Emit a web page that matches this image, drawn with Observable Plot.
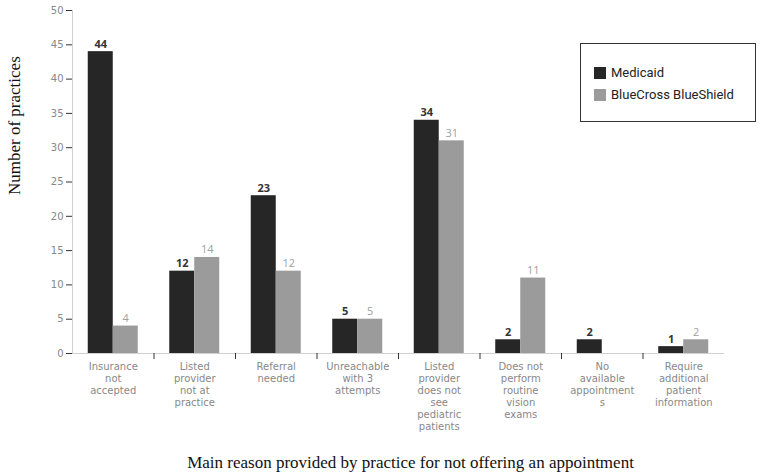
<!DOCTYPE html>
<html>
<head>
<meta charset="utf-8">
<script src="https://cdn.jsdelivr.net/npm/d3@7"></script>
<script src="https://cdn.jsdelivr.net/npm/@observablehq/plot@0.6"></script>
<style>
  html, body { margin: 0; padding: 0; background: #fff; }
  #wrap { position: relative; width: 762px; height: 475px; }
  .legend { position: absolute; left: 580px; top: 43px; width: 176px; height: 79px;
    border: 1px solid #333; background: #fff; box-sizing: border-box;
    font-family: Roboto, sans-serif; font-size: 13px; color: #222; }
  .legend .item { position: absolute; left: 13px; display: flex; align-items: center; }
  .legend .sw { width: 12px; height: 12px; margin-right: 5px; }
</style>
</head>
<body>
<div id="wrap"></div>
<script>
const categories = ["Insurance not accepted", "Listed provider not at practice", "Referral needed",
  "Unreachable with 3 attempts", "Listed provider does not see pediatric patients",
  "Does not perform routine vision exams", "No available appointments", "Require additional patient information"];
const tickLabels = ["Insurance\nnot\naccepted", "Listed\nprovider\nnot at\npractice", "Referral\nneeded",
  "Unreachable\nwith 3\nattempts", "Listed\nprovider\ndoes not\nsee\npediatric\npatients",
  "Does not\nperform\nroutine\nvision\nexams", "No\navailable\nappointment\ns", "Require\nadditional\npatient\ninformation"];
const seriesNames = ["Medicaid", "BlueCross BlueShield"];
const medicaid = [44, 12, 23, 5, 34, 2, 2, 1];
const bcbs = [4, 14, 12, 5, 31, 11, 0, 2];
const yTicks = [0, 5, 10, 15, 20, 25, 30, 35, 40, 45, 50];
const yTitle = "Number of practices";
const xTitle = "Main reason provided by practice for not offering an appointment";

const colors = ["#262626", "#9b9b9b"];
const medRows = categories.map((c, i) => ({cat: c, value: medicaid[i]}));
const bcRows = categories.map((c, i) => ({cat: c, value: bcbs[i]}));
const labelOf = new Map(categories.map((c, i) => [c, tickLabels[i]]));

const W = 762, H = 475, ML = 72, MR = 38, MT = 10, MB = 122;
const band = (W - ML - MR) / categories.length;
const half = band / 2;
const serif = "Liberation Serif";
const sans = "DejaVu Sans";

const chart = Plot.plot({
  width: W, height: H,
  marginLeft: ML, marginRight: MR, marginTop: MT, marginBottom: MB,
  style: {fontFamily: sans, fontSize: "10px", background: "#fff"},
  x: {domain: categories, padding: 0, round: false, label: null},
  y: {domain: [0, 50], label: null},
  marks: [
    Plot.ruleY([0], {stroke: "#d0d0d0"}),
    Plot.frame({anchor: "left", stroke: "#d0d0d0"}),
    Plot.barY(medRows, {x: "cat", y: "value", fill: colors[0], insetLeft: half - 25, insetRight: half}),
    Plot.barY(bcRows.filter(d => d.value > 0), {x: "cat", y: "value", fill: colors[1], insetLeft: half, insetRight: half - 25}),
    Plot.text(medRows, {x: "cat", y: "value", text: d => String(d.value), dx: -12.5, dy: -4, lineAnchor: "bottom",
      fill: "#333", fontWeight: "bold", fontSize: 11, fontFamily: "Open Sans"}),
    Plot.text(bcRows.filter(d => d.value > 0), {x: "cat", y: "value", text: d => String(d.value), dx: 12.5, dy: -4, lineAnchor: "bottom",
      fill: "#a0a0a0", fontSize: 11, fontFamily: "Open Sans"}),
    Plot.axisY({ticks: yTicks, tickSize: 6, tickPadding: 3, stroke: "#333", fill: "#888", label: null, fontSize: 10, fontFamily: sans}),
    Plot.axisX({ticks: categories.slice(0, -1), tickSize: 6, text: null, dx: half, stroke: "#333", label: null}),
    Plot.axisX({tickSize: 0, tickPadding: 8, tickFormat: d => labelOf.get(d), lineHeight: 1.2, fill: "#888", fontSize: 10, fontFamily: sans, label: null}),
    Plot.text([yTitle], {text: d => d, frameAnchor: "left", rotate: -90, dx: -58, dy: 13,
      fontFamily: serif, fontSize: 17, fill: "#111"}),
    Plot.text([xTitle], {text: d => d, frameAnchor: "bottom", dx: 12, dy: 114,
      fontFamily: serif, fontSize: 17, fill: "#111"})
  ]
});

const wrap = document.getElementById("wrap");
wrap.appendChild(chart);

const legend = document.createElement("div");
legend.className = "legend";
seriesNames.forEach((name, i) => {
  const item = document.createElement("div");
  item.className = "item";
  item.style.top = (21 + i * 22) + "px";
  const sw = document.createElement("div");
  sw.className = "sw";
  sw.style.background = colors[i];
  const t = document.createElement("span");
  t.textContent = name;
  item.appendChild(sw);
  item.appendChild(t);
  legend.appendChild(item);
});
wrap.appendChild(legend);
</script>
</body>
</html>
